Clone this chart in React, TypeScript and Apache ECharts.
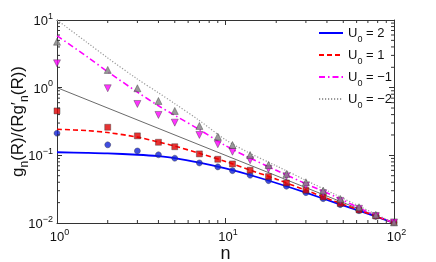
import React, { useEffect, useRef } from "react";
import * as echarts from "echarts";

// marker positions (n) and marker values
const markerN = [1, 2, 3, 4, 5, 7, 9, 11, 14, 18, 23, 30, 38, 48, 62, 78, 100];
const circlesU2 = [0.212, 0.143, 0.116, 0.102, 0.0906, 0.0772, 0.0675, 0.0594, 0.0508, 0.0423, 0.0349, 0.0281, 0.0229, 0.0187, 0.0152, 0.0126, 0.0102];
const squaresU1 = [0.453, 0.26, 0.194, 0.156, 0.134, 0.105, 0.0875, 0.0746, 0.0602, 0.0485, 0.0391, 0.0305, 0.0243, 0.0194, 0.0156, 0.0127, 0.0102];
const trisDownUm1 = [2.29, 0.98, 0.574, 0.395, 0.304, 0.2, 0.146, 0.113, 0.0846, 0.063, 0.049, 0.0357, 0.0275, 0.0212, 0.0162, 0.0127, 0.0102];
const trisUpUm2 = [4.78, 1.83, 0.98, 0.636, 0.453, 0.272, 0.189, 0.142, 0.101, 0.072, 0.0531, 0.04, 0.0301, 0.0227, 0.0171, 0.0132, 0.0102];

// curve sample positions (n) and curve values
const curveN = [1, 1.5, 2, 3, 4, 5, 7, 10, 14, 20, 30, 45, 65, 100];
const lineU2 = [0.111, 0.109, 0.107, 0.102, 0.097, 0.091, 0.078, 0.064, 0.0512, 0.039, 0.0281, 0.0198, 0.0146, 0.01];
const lineU1 = [0.243, 0.232, 0.217, 0.186, 0.157, 0.137, 0.107, 0.081, 0.0605, 0.0445, 0.0305, 0.0207, 0.0149, 0.01];
const lineUm1 = [5.86, 2.9, 1.72, 0.86, 0.54, 0.39, 0.24, 0.139, 0.091, 0.06, 0.038, 0.0245, 0.0158, 0.01];
const lineUm2 = [10, 4.7, 2.75, 1.34, 0.84, 0.58, 0.327, 0.17, 0.107, 0.07, 0.0427, 0.0262, 0.0168, 0.01];
const refN = [1, 100];
const refLine = [1, 0.01];

const legendNames = ["U0 = 2", "U0 = 1", "U0 = \u22121", "U0 = \u22122"];
const minorX = [2, 3, 4, 5, 6, 7, 8, 9, 20, 30, 40, 50, 60, 70, 80, 90];
const minorY = [0.02, 0.03, 0.04, 0.05, 0.06, 0.07, 0.08, 0.09, 0.2, 0.3, 0.4, 0.5, 0.6, 0.7, 0.8, 0.9, 2, 3, 4, 5, 6, 7, 8, 9];

const FONT = "'Liberation Sans', Arial, Helvetica, sans-serif";
const AX = "#333";

const zip = (xs: number[], ys: number[]) => xs.map((x, i) => [x, ys[i]]);

const expLabel = (v: number, pad: boolean) => {
  const e = Math.round(Math.log10(v));
  const s = e < 0 ? "\u2212" + -e : String(e);
  return (pad ? "{p|}" : "") + "{b|10}{s|" + s + "}";
};

const tickRich = {
  p: { width: 5, fontSize: 13, lineHeight: 14, verticalAlign: "bottom" },
  b: { fontSize: 13, lineHeight: 14, verticalAlign: "bottom", color: "#111", fontFamily: FONT },
  s: { fontSize: 9, lineHeight: 9, padding: [0, 0, 7, 0], verticalAlign: "bottom", color: "#111", fontFamily: FONT },
};

export default function App() {
  const ref = useRef<HTMLDivElement>(null);
  useEffect(() => {
    if (!ref.current) return;
    const chart = echarts.init(ref.current, undefined, { renderer: "svg" });
    const lineSeries = (name: string, data: number[], color: string, type: any, width: number) => ({
      name,
      type: "line",
      data: zip(curveN, data),
      symbol: "none",
      smooth: 0.3,
      lineStyle: { color, type, width },
      itemStyle: { color: "transparent", borderWidth: 0 },
      z: 3,
    });
    const scatter = (data: number[], symbol: string, size: number, color: string, rotate = 0) => ({
      type: "scatter",
      data: zip(markerN, data),
      symbol,
      symbolSize: size,
      symbolRotate: rotate,
      itemStyle: { color, borderColor: "#333", borderWidth: 0.5 },
      z: 4,
    });
    const tickLine = (x1: number, y1: number, x2: number, y2: number) => ({
      type: "line",
      shape: { x1, y1, x2, y2 },
      style: { stroke: AX, lineWidth: 1 },
    });
    chart.setOption({
      animation: false,
      textStyle: { fontFamily: FONT },
      grid: { left: 57, right: 42, top: 20, bottom: 39, containLabel: false, outerBoundsMode: "none" },
      legend: {
        orient: "vertical",
        left: 318,
        top: 26,
        padding: 0,
        itemWidth: 24,
        itemHeight: 14,
        itemGap: 5,
        data: legendNames,
        itemStyle: { opacity: 0 },
        formatter: (name: string) => "{u|U}{s|0}{t| = " + name.split("= ")[1] + "}",
        textStyle: {
          color: "#111",
          rich: {
            u: { fontSize: 13, lineHeight: 14, verticalAlign: "top", fontFamily: FONT, color: "#111" },
            s: { fontSize: 9, lineHeight: 9, padding: [8, 0, 0, 0], verticalAlign: "top", fontFamily: FONT, color: "#111" },
            t: { fontSize: 13, lineHeight: 14, verticalAlign: "top", fontFamily: FONT, color: "#111" },
          },
        },
      },
      xAxis: [
        {
          type: "log",
          logBase: 10,
          min: 1,
          max: 100,
          splitNumber: 2,
          position: "bottom",
          axisLine: { show: true, lineStyle: { color: AX, width: 1 } },
          axisTick: { show: true, inside: true, length: 5, lineStyle: { color: AX } },
          splitLine: { show: false },
          axisLabel: { margin: 6, formatter: (v: number) => expLabel(v, true), rich: tickRich },
          name: "n",
          nameLocation: "middle",
          nameGap: 23,
          nameMoveOverlap: false,
          nameTextStyle: { fontSize: 18, lineHeight: 14, color: "#111", fontFamily: FONT },
        },
        {
          type: "log",
          logBase: 10,
          min: 1,
          max: 100,
          splitNumber: 2,
          position: "top",
          axisLine: { show: true, lineStyle: { color: AX, width: 1 } },
          axisTick: { show: true, inside: true, length: 5, lineStyle: { color: AX } },
          splitLine: { show: false },
          axisLabel: { show: false },
        },
      ],
      yAxis: [
        {
          type: "log",
          logBase: 10,
          min: 0.01,
          max: 10,
          splitNumber: 3,
          position: "left",
          axisLine: { show: true, lineStyle: { color: AX, width: 1 } },
          axisTick: { show: true, inside: true, length: 5, lineStyle: { color: AX } },
          splitLine: { show: false },
          axisLabel: { margin: 4, formatter: (v: number) => expLabel(v, false), rich: tickRich },
          name: "{a|g}{n|n}{a|(R)/(Rg\u2032}{n|n}{a|(R))}",
          nameLocation: "middle",
          nameRotate: 90,
          nameGap: 31,
          nameMoveOverlap: false,
          nameTextStyle: {
            color: "#111",
            rich: {
              a: { fontSize: 17, lineHeight: 17, verticalAlign: "top", fontFamily: FONT, color: "#111" },
              n: { fontSize: 12, lineHeight: 12, padding: [9, 0, 0, 0], verticalAlign: "top", fontFamily: FONT, color: "#111" },
            },
          },
        },
        {
          type: "log",
          logBase: 10,
          min: 0.01,
          max: 10,
          splitNumber: 3,
          position: "right",
          axisLine: { show: true, lineStyle: { color: AX, width: 1 } },
          axisTick: { show: true, inside: true, length: 5, lineStyle: { color: AX } },
          splitLine: { show: false },
          axisLabel: { show: false },
        },
      ],
      series: [
        {
          type: "line",
          data: zip(refN, refLine),
          symbol: "none",
          lineStyle: { color: "#444", width: 0.8 },
          z: 2,
          silent: true,
        },
        lineSeries(legendNames[0], lineU2, "#0000ff", "solid", 1.8),
        lineSeries(legendNames[1], lineU1, "#ff0000", [5, 3], 1.6),
        lineSeries(legendNames[2], lineUm1, "#ff00ff", [6, 3, 1.5, 3], 1.6),
        lineSeries(legendNames[3], lineUm2, "#9a9a9a", [1.2, 1.8], 1.2),
        scatter(circlesU2, "circle", 6, "#1020d8"),
        scatter(squaresU1, "rect", 6, "#e00000"),
        scatter(trisDownUm1, "triangle", 7, "#ff00ff", 180),
        scatter(trisUpUm2, "triangle", 7, "#808080"),
        {
          type: "custom",
          data: minorX.map((v) => [v, 1]),
          silent: true,
          z: 5,
          renderItem: (_p: any, api: any) => {
            const v = api.value(0);
            const b = api.coord([v, 0.01]);
            const t = api.coord([v, 10]);
            return { type: "group", children: [tickLine(b[0], b[1], b[0], b[1] - 3), tickLine(t[0], t[1], t[0], t[1] + 3)] };
          },
        },
        {
          type: "custom",
          data: minorY.map((v) => [10, v]),
          silent: true,
          z: 5,
          renderItem: (_p: any, api: any) => {
            const v = api.value(1);
            const l = api.coord([1, v]);
            const r = api.coord([100, v]);
            return { type: "group", children: [tickLine(l[0], l[1], l[0] + 3, l[1]), tickLine(r[0], r[1], r[0] - 3, r[1])] };
          },
        },
      ],
    });
    return () => chart.dispose();
  }, []);
  return <div ref={ref} style={{ position: "fixed", left: 0, top: 0, width: 436, height: 262 }} />;
}
